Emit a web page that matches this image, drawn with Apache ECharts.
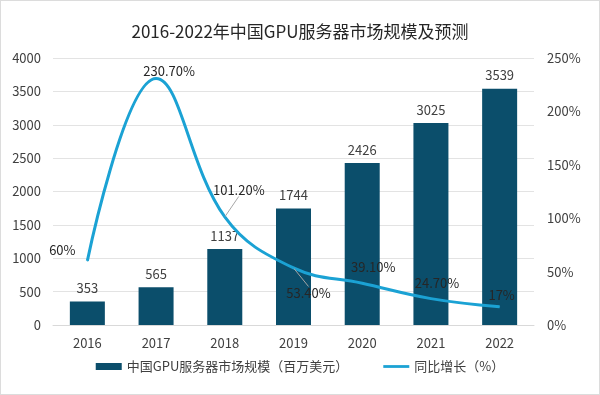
<!DOCTYPE html>
<html><head><meta charset="utf-8">
<script src="https://cdn.jsdelivr.net/npm/echarts@6/dist/echarts.min.js"></script>
<style>html,body{margin:0;padding:0;background:#fff}#c{width:600px;height:395px;box-sizing:border-box;border:1px solid #dcdcdc}</style>
</head><body><div id="c"></div>
<script>
const categories = ['2016','2017','2018','2019','2020','2021','2022'];
const marketSize = [353, 565, 1137, 1744, 2426, 3025, 3539];
const growth = [60, 230.7, 101.2, 53.4, 39.1, 24.7, 17];
const growthLabels = ['60%','230.70%','101.20%','53.40%','39.10%','24.70%','17%'];
const leftTicks = [0, 4000, 500];
const rightTicks = [0, 250, 50];

const labelShift = [[-25,1],[13,4],[14,-15],[15,37],[11,-4],[6,-4],[2,0]];
const showLeader = [false, false, true, true, false, false, false];
const font = '"Noto Sans CJK SC", "Noto Sans", sans-serif';

const growthData = growth.map((v, i) => ({value: v, labelLine: {show: showLeader[i]}}));

const chart = echarts.init(document.getElementById('c'));
chart.setOption({
  animation: false,
  textStyle: {fontFamily: font},
  title: {text: '2016-2022年中国GPU服务器市场规模及预测', left: 'center', top: 17,
    textStyle: {fontSize: 17, fontWeight: 'normal', color: '#262626', fontFamily: font}},
  grid: {left: 52, right: 65, top: 57, bottom: 69},
  legend: {bottom: 16, left: 'center', itemGap: 35, itemWidth: 26, itemHeight: 7,
    textStyle: {fontSize: 13, color: '#404040', fontFamily: font},
    data: [{name: '中国GPU服务器市场规模（百万美元）', icon: 'rect'},
           {name: '同比增长（%）', icon: 'path://M0,0 L28,0 L28,3 L0,3 Z'}]},
  xAxis: {type: 'category', data: categories,
    axisLine: {lineStyle: {color: '#d9d9d9'}}, axisTick: {show: false},
    axisLabel: {fontSize: 13, color: '#404040', margin: 12}},
  yAxis: [
    {type: 'value', min: leftTicks[0], max: leftTicks[1], interval: leftTicks[2],
      axisLine: {show: false}, axisTick: {show: false},
      axisLabel: {fontSize: 13, color: '#404040', margin: 12, formatter: v => String(v)},
      splitLine: {lineStyle: {color: '#e3e3e3'}}},
    {type: 'value', min: rightTicks[0], max: rightTicks[1], interval: rightTicks[2],
      axisLine: {show: false}, axisTick: {show: false},
      axisLabel: {fontSize: 13, color: '#404040', margin: 13, formatter: '{value}%'},
      splitLine: {show: false}}
  ],
  series: [
    {name: '中国GPU服务器市场规模（百万美元）', type: 'bar', data: marketSize, barWidth: 35,
      itemStyle: {color: '#0b4e6b'},
      label: {show: true, position: 'top', fontSize: 13, color: '#404040', distance: 7}},
    {name: '同比增长（%）', type: 'line', yAxisIndex: 1, data: growthData, smooth: 0.4,
      symbol: 'circle', symbolSize: 1, showSymbol: true, zlevel: 1, z: 10,
      lineStyle: {color: '#1ba2d4', width: 3}, itemStyle: {color: '#1ba2d4'},
      label: {show: true, position: 'top', fontSize: 13, color: '#262626',
        textBorderWidth: 0, formatter: p => growthLabels[p.dataIndex]},
      labelLine: {show: false, lineStyle: {color: '#a6a6a6', width: 1}},
      labelLayout: p => ({dx: labelShift[p.dataIndex][0], dy: labelShift[p.dataIndex][1],
        hideOverlap: false})}
  ]
});
</script></body></html>
